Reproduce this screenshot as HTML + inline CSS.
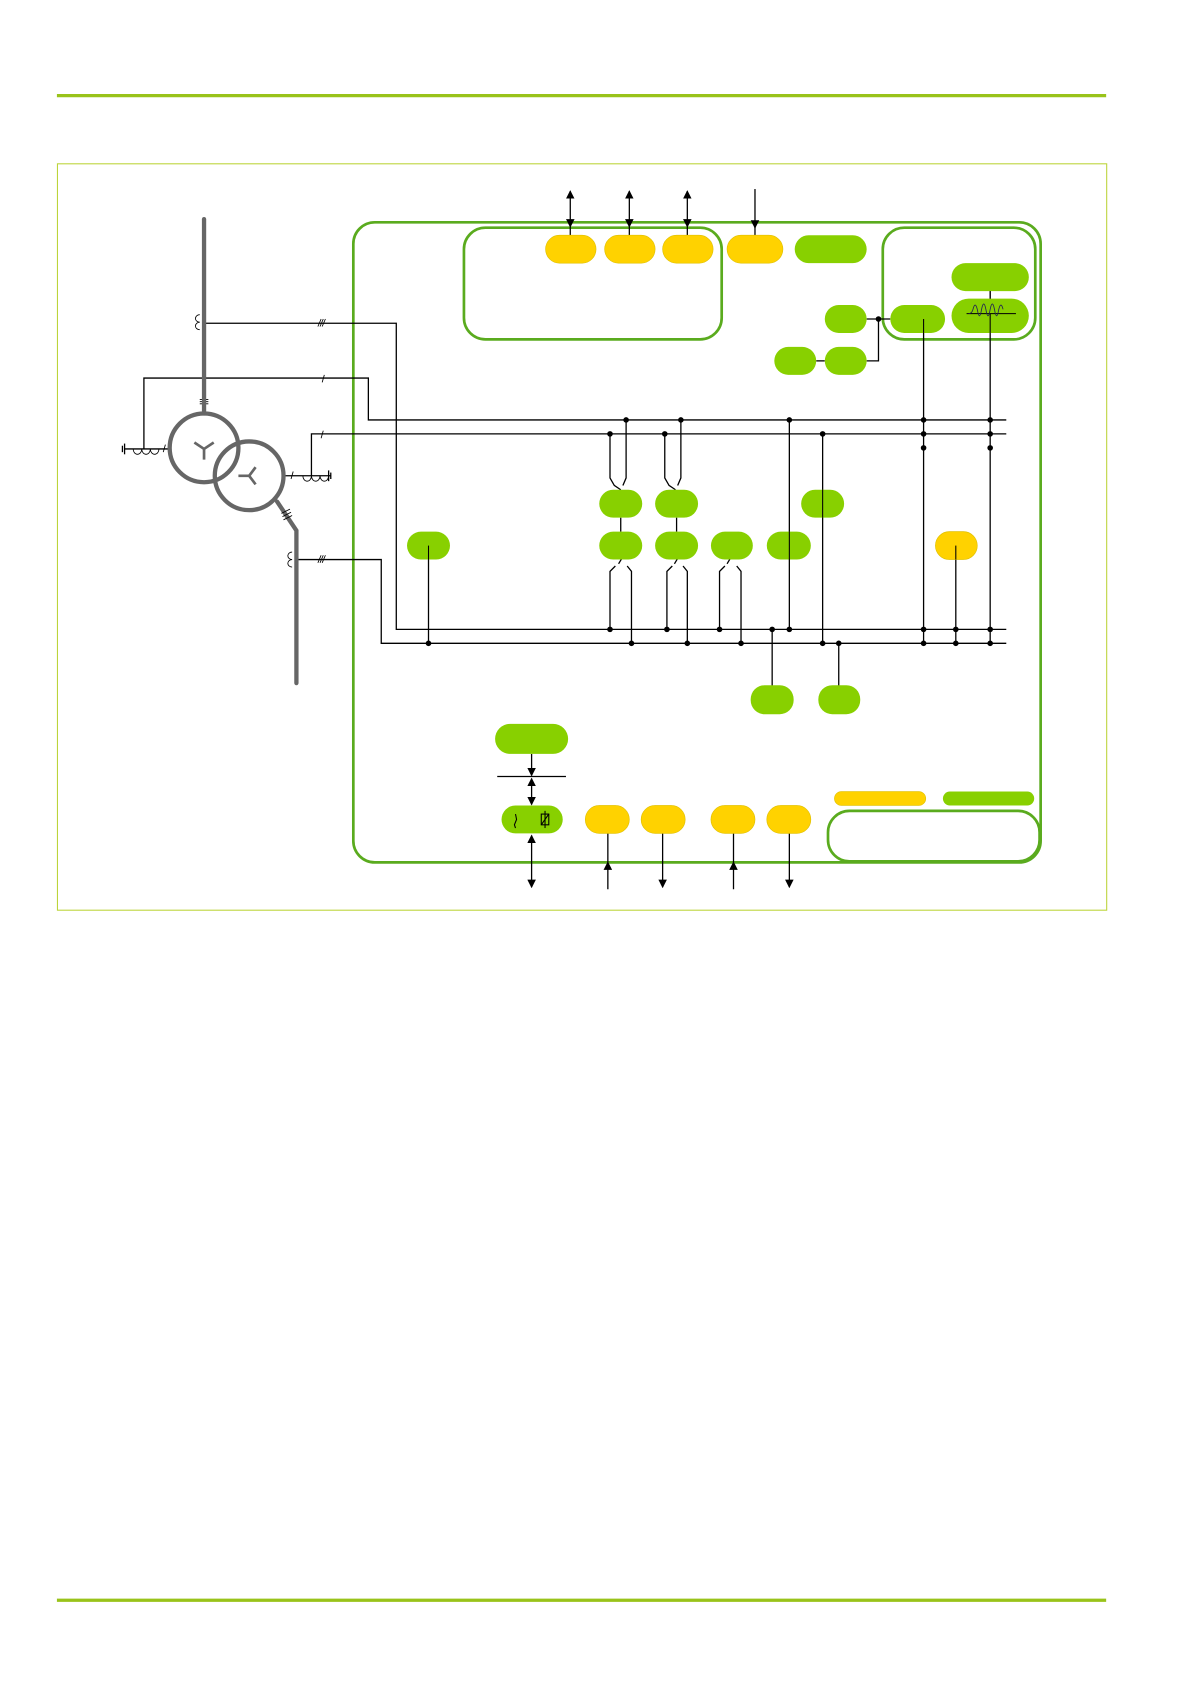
<!DOCTYPE html>
<html><head><meta charset="utf-8"><style>html,body{margin:0;padding:0;background:#fff}svg{display:block}</style></head><body>
<svg width="1191" height="1684" viewBox="0 0 1109 1568" xmlns="http://www.w3.org/2000/svg">
<defs>
<marker id="ah" markerWidth="8" markerHeight="8" refX="7" refY="4" orient="auto-start-reverse" markerUnits="userSpaceOnUse"><path d="M0,0 L8,4 L0,8 z" fill="#000"/></marker>
</defs>
<line x1="53" y1="89" x2="1030" y2="89" stroke="#99c31a" stroke-width="3"/>
<line x1="53" y1="1490" x2="1030" y2="1490" stroke="#99c31a" stroke-width="3"/>
<rect x="53.5" y="152.5" width="977" height="695" fill="none" stroke="#bcd43a" stroke-width="1"/>
<rect x="329" y="207" width="640" height="596" rx="20" fill="none" stroke="#5aab1e" stroke-width="2.5"/>
<rect x="432" y="212" width="240" height="104" rx="20" fill="none" stroke="#5aab1e" stroke-width="2.5"/>
<rect x="822" y="212" width="142" height="104" rx="20" fill="none" stroke="#5aab1e" stroke-width="2.5"/>
<rect x="771" y="755" width="197" height="47" rx="20" fill="none" stroke="#5aab1e" stroke-width="2.5"/>
<g stroke="#000" stroke-width="1.2" fill="none">
<line x1="531" y1="178" x2="531" y2="211" marker-start="url(#ah)" marker-end="url(#ah)"/>
<line x1="586" y1="178" x2="586" y2="211" marker-start="url(#ah)" marker-end="url(#ah)"/>
<line x1="640" y1="178" x2="640" y2="211" marker-start="url(#ah)" marker-end="url(#ah)"/>
<line x1="703" y1="176" x2="703" y2="212" marker-end="url(#ah)"/>
<line x1="531" y1="211" x2="531" y2="219"/><line x1="586" y1="211" x2="586" y2="219"/><line x1="640" y1="211" x2="640" y2="219"/><line x1="703" y1="211" x2="703" y2="219"/>
<polyline points="134,418 134,352 343,352 343,391 937,391"/>
<polyline points="290,443 290,404 937,404"/>
<polyline points="190,301 369,301 369,586 937,586"/>
<polyline points="276,521 355,521 355,599 937,599"/>
<polyline points="807,297 829,297"/><polyline points="818,297 818,336 807,336"/><line x1="760" y1="336" x2="768" y2="336"/>
<line x1="860" y1="310" x2="860" y2="599"/>
<line x1="922" y1="271" x2="922" y2="599"/>
<polyline points="568,404 568,445 572,452 578,456"/><polyline points="583,391 583,445 580,452"/>
<polyline points="619,404 619,445 623,452 629,456"/><polyline points="634,391 634,445 631,452"/>
<line x1="578" y1="482" x2="578" y2="495"/><line x1="630" y1="482" x2="630" y2="495"/>
<line x1="735" y1="391" x2="735" y2="586"/>
<line x1="766" y1="404" x2="766" y2="599"/>
<polyline points="568,586 568,532 573,527"/><line x1="576" y1="525" x2="579" y2="520"/><polyline points="588,599 588,532 584,527"/>
<polyline points="621,586 621,532 626,527"/><line x1="628" y1="525" x2="631" y2="520"/><polyline points="640,599 640,532 636,527"/>
<polyline points="670,586 670,532 675,527"/><line x1="677" y1="525" x2="680" y2="520"/><polyline points="690,599 690,532 686,527"/>
<line x1="399" y1="521" x2="399" y2="599"/>
<line x1="890" y1="521" x2="890" y2="599"/>
<line x1="719" y1="586" x2="719" y2="640"/>
<line x1="781" y1="599" x2="781" y2="640"/>
<line x1="495" y1="702" x2="495" y2="722" marker-end="url(#ah)"/>
<line x1="463" y1="723" x2="527" y2="723"/>
<line x1="495" y1="725" x2="495" y2="749" marker-start="url(#ah)" marker-end="url(#ah)"/>
<line x1="495" y1="778" x2="495" y2="826" marker-start="url(#ah)" marker-end="url(#ah)"/>
<line x1="566" y1="828" x2="566" y2="803" marker-end="url(#ah)"/>
<line x1="566" y1="803" x2="566" y2="776"/>
<line x1="617" y1="776" x2="617" y2="826" marker-end="url(#ah)"/>
<line x1="683" y1="828" x2="683" y2="803" marker-end="url(#ah)"/>
<line x1="683" y1="803" x2="683" y2="776"/>
<line x1="735" y1="776" x2="735" y2="826" marker-end="url(#ah)"/>
<path d="M296,304 l3,-7 M298,304 l3,-7 M300,304 l3,-7" stroke-width="0.8"/>
<path d="M296,524 l3,-7 M298,524 l3,-7 M300,524 l3,-7" stroke-width="0.8"/>
<path d="M300,356 l2,-7 M299,408 l2,-7" stroke-width="0.8"/>
<line x1="116" y1="418" x2="158" y2="418"/><line x1="116" y1="413" x2="116" y2="423"/><line x1="114" y1="415" x2="114" y2="421"/>
<path d="M124,418 a4,5 0 0 0 8,0 a4,5 0 0 0 8,0 a4,5 0 0 0 8,0" stroke-width="0.8"/>
<line x1="152" y1="421" x2="154" y2="414" stroke-width="0.8"/>
<line x1="265" y1="443" x2="308" y2="443"/><line x1="306" y1="438" x2="306" y2="448"/><line x1="308" y1="440" x2="308" y2="446"/>
<path d="M282,443 a4,5 0 0 0 8,0 a4,5 0 0 0 8,0 a4,5 0 0 0 8,0" stroke-width="0.8"/>
<line x1="271" y1="446" x2="273" y2="439" stroke-width="0.8"/>
<path d="M186,300 a4,3.5 0 1 1 0,-7 M186,307 a4,3.5 0 1 1 0,-7" stroke-width="0.8"/>
<path d="M272,521 a4,3.5 0 1 1 0,-7 M272,528 a4,3.5 0 1 1 0,-7" stroke-width="0.8"/>
<path d="M186,372 h8 M186,374 h8 M186,376 h8" stroke-width="0.8"/>
</g>
<g stroke="#666" stroke-width="4" fill="none" stroke-linecap="round">
<line x1="190" y1="204" x2="190" y2="385"/>
<circle cx="190" cy="417" r="32"/>
<circle cx="232" cy="443" r="32"/>
<polyline points="258,467 276,494 276,636"/>
</g>
<g stroke="#666" stroke-width="2.5" fill="none">
<path d="M190,418 v10 M190,418 l-9,-6 M190,418 l9,-6"/>
<path d="M232,443 h-10 M232,443 l6,-8 M232,443 l6,8"/>
</g>
<path d="M262,478 l8,-4 M263,481 l8,-4 M264,484 l8,-4" stroke="#000" stroke-width="0.8"/>
<g fill="#000">
<circle cx="818" cy="297" r="2.6"/>
<circle cx="583" cy="391" r="2.6"/><circle cx="634" cy="391" r="2.6"/><circle cx="735" cy="391" r="2.6"/><circle cx="860" cy="391" r="2.6"/><circle cx="922" cy="391" r="2.6"/>
<circle cx="568" cy="404" r="2.6"/><circle cx="619" cy="404" r="2.6"/><circle cx="766" cy="404" r="2.6"/><circle cx="860" cy="404" r="2.6"/><circle cx="922" cy="404" r="2.6"/>
<circle cx="860" cy="417" r="2.6"/><circle cx="922" cy="417" r="2.6"/>
<circle cx="568" cy="586" r="2.6"/><circle cx="621" cy="586" r="2.6"/><circle cx="670" cy="586" r="2.6"/><circle cx="719" cy="586" r="2.6"/><circle cx="735" cy="586" r="2.6"/><circle cx="860" cy="586" r="2.6"/><circle cx="890" cy="586" r="2.6"/><circle cx="922" cy="586" r="2.6"/>
<circle cx="399" cy="599" r="2.6"/><circle cx="588" cy="599" r="2.6"/><circle cx="640" cy="599" r="2.6"/><circle cx="690" cy="599" r="2.6"/><circle cx="766" cy="599" r="2.6"/><circle cx="781" cy="599" r="2.6"/><circle cx="860" cy="599" r="2.6"/><circle cx="890" cy="599" r="2.6"/><circle cx="922" cy="599" r="2.6"/>
</g>
<g fill="#ffd200" stroke="#e0c000" stroke-width="0.6">
<rect x="508" y="219" width="47" height="26" rx="13"/>
<rect x="563" y="219" width="47" height="26" rx="13"/>
<rect x="617" y="219" width="47" height="26" rx="13"/>
<rect x="677" y="219" width="52" height="26" rx="13"/>
<rect x="871" y="495" width="39" height="26" rx="13"/>
<rect x="545" y="750" width="41" height="26" rx="13"/>
<rect x="597" y="750" width="41" height="26" rx="13"/>
<rect x="662" y="750" width="41" height="26" rx="13"/>
<rect x="714" y="750" width="41" height="26" rx="13"/>
<rect x="777" y="737" width="85" height="13" rx="6.5"/>
</g>
<g fill="#88d000">
<rect x="740" y="219" width="67" height="26" rx="13"/>
<rect x="886" y="245" width="72" height="26" rx="13"/>
<rect x="886" y="278" width="72" height="32" rx="16"/>
<rect x="829" y="284" width="51" height="26" rx="13"/>
<rect x="768" y="284" width="39" height="26" rx="13"/>
<rect x="721" y="323" width="39" height="26" rx="13"/>
<rect x="768" y="323" width="39" height="26" rx="13"/>
<rect x="558" y="456" width="40" height="26" rx="13"/>
<rect x="610" y="456" width="40" height="26" rx="13"/>
<rect x="746" y="456" width="40" height="26" rx="13"/>
<rect x="379" y="495" width="40" height="26" rx="13"/>
<rect x="558" y="495" width="40" height="26" rx="13"/>
<rect x="610" y="495" width="40" height="26" rx="13"/>
<rect x="662" y="495" width="39" height="26" rx="13"/>
<rect x="714" y="495" width="41" height="26" rx="13"/>
<rect x="699" y="638" width="40" height="27" rx="13"/>
<rect x="762" y="638" width="39" height="27" rx="13"/>
<rect x="461" y="674" width="68" height="28" rx="14"/>
<rect x="467" y="750" width="57" height="26" rx="13"/>
<rect x="878" y="737" width="85" height="13" rx="6.5"/>
</g>
<g stroke="#000" stroke-width="1" fill="none">
<line x1="860" y1="297" x2="860" y2="310"/><line x1="922" y1="271" x2="922" y2="278"/><line x1="922" y1="292" x2="922" y2="310"/>
<line x1="900" y1="292" x2="946" y2="292"/>
<path d="M902,292 q3,0 4,-4 q2,-8 4,0 q2,12 4,0 q2,-10 4,0 q2,12 4,0 q2,-10 4,0 q2,12 4,0 q2,-8 4,0" stroke="#225" stroke-width="0.8"/>
<line x1="735" y1="495" x2="735" y2="521"/><line x1="766" y1="456" x2="766" y2="482"/>
<line x1="399" y1="508" x2="399" y2="521"/><line x1="890" y1="508" x2="890" y2="521"/>
<path d="M480,758 l1,5 l-2,5 l1,3"/>
<rect x="504" y="758" width="7" height="10"/><line x1="504" y1="768" x2="511" y2="758"/><line x1="507.5" y1="755" x2="507.5" y2="771"/>
</g>
</svg>
</body></html>
